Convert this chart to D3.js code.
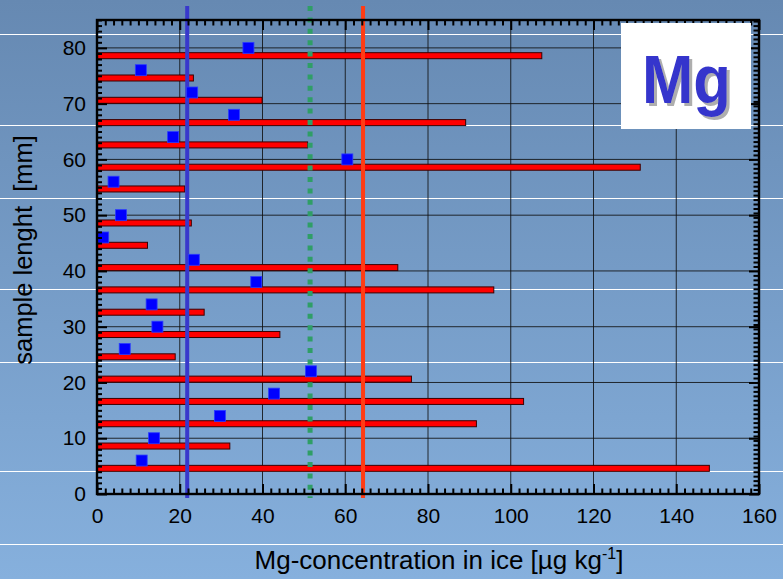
<!DOCTYPE html>
<html>
<head>
<meta charset="utf-8">
<script src="https://cdn.jsdelivr.net/npm/d3@7"></script>
<style>
  html, body { margin: 0; padding: 0; }
  body { width: 783px; height: 579px; overflow: hidden; }
  svg text { font-family: "Liberation Sans", Arial, sans-serif; fill: #000; }
</style>
</head>
<body>
<div id="chart"></div>
<script>
// bars: mid height of each sample segment [mm] and Mg concentration
const barMid = [4.6, 8.6, 12.6, 16.6, 20.6, 24.6, 28.6, 32.6, 36.6, 40.6, 44.6, 48.6, 54.7, 58.6, 62.6, 66.6, 70.6, 74.6, 78.6];
const barVal = [148.0, 32.1, 91.7, 103.1, 76.0, 18.9, 44.2, 25.9, 95.9, 72.7, 12.2, 22.8, 21.2, 131.3, 50.9, 89.1, 39.9, 23.3, 107.5];

// blue squares
const pointY = [6, 10, 14, 18, 22, 26, 30, 34, 38, 42, 46, 50, 56, 60, 64, 68, 72, 76, 80];
const pointVal = [10.8, 13.8, 29.7, 42.8, 51.7, 6.7, 14.6, 13.2, 38.5, 23.4, 1.5, 5.8, 4.0, 60.5, 18.4, 33.1, 23.0, 10.6, 36.6];

// reference lines
const refNames = ["blue", "green", "red"];
const refVal = [21.8, 51.5, 64.3];

const xTicks = [0, 20, 40, 60, 80, 100, 120, 140, 160];
const yTicks = [0, 10, 20, 30, 40, 50, 60, 70, 80];

// slide decoration lines (pixel rows)
const slideLines = [34, 125, 198, 289, 362, 471, 544];

const W = 783, H = 579;
const margin = { top: 20, right: 24, bottom: 85, left: 97 };

const svg = d3.select("#chart").append("svg")
  .attr("width", W).attr("height", H);

const defs = svg.append("defs");
const grad = defs.append("linearGradient").attr("id", "bg")
  .attr("x1", 0).attr("y1", 0).attr("x2", 0).attr("y2", 1);
grad.append("stop").attr("offset", "0%").attr("stop-color", "#6689b2");
grad.append("stop").attr("offset", "100%").attr("stop-color", "#86b0dd");

// gray shadow behind the element badge text
defs.append("filter").attr("id", "shadow")
  .attr("x", "-10%").attr("y", "-10%").attr("width", "130%").attr("height", "130%")
  .append("feDropShadow")
  .attr("dx", 3).attr("dy", 3).attr("stdDeviation", 0.6)
  .attr("flood-color", "#9a9a9a").attr("flood-opacity", 0.8);

svg.append("rect").attr("width", W).attr("height", H).attr("fill", "url(#bg)");
svg.selectAll(".slide-line").data(slideLines).join("line")
  .attr("x1", 0).attr("x2", W)
  .attr("y1", d => d + 0.5).attr("y2", d => d + 0.5)
  .attr("stroke", "#fff").attr("stroke-width", 1.2);

const x = d3.scaleLinear([0, 160], [margin.left, W - margin.right]);
const y = d3.scaleLinear([0, 85], [H - margin.bottom, margin.top]);

// grid lines
svg.append("g")
  .selectAll("line").data(xTicks.slice(1, -1)).join("line")
  .attr("x1", d => x(d)).attr("x2", d => x(d))
  .attr("y1", y(0)).attr("y2", y(85))
  .attr("stroke", "#111").attr("stroke-opacity", 0.85).attr("stroke-width", 1);
svg.append("g")
  .selectAll("line").data(yTicks.slice(1)).join("line")
  .attr("x1", x(0)).attr("x2", x(160))
  .attr("y1", d => y(d)).attr("y2", d => y(d))
  .attr("stroke", "#111").attr("stroke-opacity", 0.85).attr("stroke-width", 1);

// bars
svg.append("g")
  .selectAll("rect").data(barMid).join("rect")
  .attr("x", x(0))
  .attr("y", d => y(d) - 3)
  .attr("width", (d, i) => x(barVal[i]) - x(0))
  .attr("height", 6)
  .attr("fill", "#ff0000")
  .attr("stroke", "#3a0000").attr("stroke-width", 1);

// reference lines
const refColor = { blue: "#3838cc", green: "#2f9e66", red: "#ff3c14" };
svg.append("g")
  .selectAll("line").data(refVal).join("line")
  .attr("x1", d => x(d)).attr("x2", d => x(d))
  .attr("y1", y(85) - 14).attr("y2", y(0) + 4)
  .attr("stroke", (d, i) => refColor[refNames[i]])
  .attr("stroke-width", (d, i) => refNames[i] === "green" ? 5 : 4)
  .attr("stroke-dasharray", (d, i) => refNames[i] === "green" ? "5,6.4" : null);

// points
svg.append("g")
  .selectAll("rect").data(pointY).join("rect")
  .attr("x", (d, i) => x(pointVal[i]) - 5.5)
  .attr("y", d => y(d) - 5.5)
  .attr("width", 11).attr("height", 11)
  .attr("fill", "#0000ff")
  .attr("stroke", "#2a3cff").attr("stroke-width", 0.8);

// ticks (all inward)
const minorX = d3.range(0, 160.01, 2).filter(v => v % 20 !== 0);
const minorYL = d3.range(0, 85.01, 1).filter(v => v % 10 !== 0);
const minorYR = d3.range(0, 85.01, 0.8).filter(v => Math.abs(v % 10) > 0.05 && Math.abs(v % 10 - 10) > 0.05);

function tickAxis(axis, g) {
  g.call(axis).call(a => a.select(".domain").remove())
    .call(a => a.selectAll("text").remove())
    .call(a => a.selectAll(".tick line").attr("stroke", "#000").attr("stroke-width", 2));
}
// bottom
tickAxis(d3.axisTop(x).tickValues(xTicks).tickSize(10), svg.append("g").attr("transform", `translate(0,${y(0)})`));
tickAxis(d3.axisTop(x).tickValues(minorX).tickSize(5.5), svg.append("g").attr("transform", `translate(0,${y(0)})`));
// top
tickAxis(d3.axisBottom(x).tickValues(xTicks).tickSize(10), svg.append("g").attr("transform", `translate(0,${y(85)})`));
tickAxis(d3.axisBottom(x).tickValues(minorX).tickSize(5.5), svg.append("g").attr("transform", `translate(0,${y(85)})`));
// left
tickAxis(d3.axisRight(y).tickValues(yTicks).tickSize(10), svg.append("g").attr("transform", `translate(${x(0)},0)`));
tickAxis(d3.axisRight(y).tickValues(minorYL).tickSize(5), svg.append("g").attr("transform", `translate(${x(0)},0)`));
// right
tickAxis(d3.axisLeft(y).tickValues(yTicks).tickSize(10), svg.append("g").attr("transform", `translate(${x(160)},0)`));
tickAxis(d3.axisLeft(y).tickValues(minorYR).tickSize(5.5), svg.append("g").attr("transform", `translate(${x(160)},0)`));

// frame
svg.append("rect")
  .attr("x", x(0)).attr("y", y(85))
  .attr("width", x(160) - x(0)).attr("height", y(0) - y(85))
  .attr("fill", "none").attr("stroke", "#000").attr("stroke-width", 2.4);

// tick labels
svg.append("g")
  .attr("transform", `translate(0,${y(0)})`)
  .call(d3.axisBottom(x).tickValues(xTicks).tickSize(0).tickPadding(14))
  .call(g => g.select(".domain").remove())
  .call(g => g.selectAll("text").attr("font-size", 21).attr("font-family", "Liberation Sans, Arial, sans-serif").attr("fill", "#000"));
svg.append("g")
  .attr("transform", `translate(${x(0)},0)`)
  .call(d3.axisLeft(y).tickValues(yTicks).tickSize(0).tickPadding(11))
  .call(g => g.select(".domain").remove())
  .call(g => g.selectAll("text").attr("font-size", 21).attr("font-family", "Liberation Sans, Arial, sans-serif").attr("fill", "#000"));

// axis titles
svg.append("text")
  .attr("transform", `translate(32,250) rotate(-90)`)
  .attr("text-anchor", "middle")
  .attr("font-size", 25.5)
  .attr("xml:space", "preserve")
  .text("sample lenght  [mm]");

const xt = svg.append("text")
  .attr("x", 439).attr("y", 569)
  .attr("text-anchor", "middle")
  .attr("font-size", 26);
xt.append("tspan").text("Mg-concentration in ice [µg kg");
xt.append("tspan").attr("font-size", 16).attr("dy", -10).text("-1");
xt.append("tspan").attr("dy", 10).text("]");

// element badge
svg.append("rect")
  .attr("x", 621).attr("y", 23).attr("width", 130).attr("height", 106)
  .attr("fill", "#fff");
svg.append("text")
  .attr("x", 642).attr("y", 103)
  .attr("font-family", "Lato, 'Open Sans', sans-serif")
  .attr("font-weight", "bold").attr("font-size", 68)
  .attr("textLength", 89).attr("lengthAdjust", "spacingAndGlyphs")
  .attr("filter", "url(#shadow)")
  .style("fill", "#3434cc")
  .text("Mg");
</script>
</body>
</html>
